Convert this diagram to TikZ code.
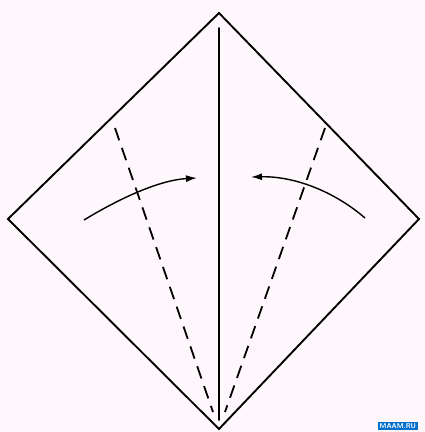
\documentclass[tikz,border=0pt]{standalone}
\usepackage{tikz}
\usetikzlibrary{arrows.meta}

\begin{document}
\begin{tikzpicture}[x=1pt, y=-1pt,
    fold/.style={line width=1.9pt, line cap=round},
    valley/.style={line width=1.8pt, dash pattern=on 13pt off 8pt},
    turn/.style={line width=1.4pt, -{Latex[length=11pt, width=7pt]}}]
    % Frame
    \useasboundingbox (0,0) rectangle (425,432);
    \fill[white!97!magenta] (0,0) rectangle (425,432);

    % Draw corners
    \coordinate (top) at (219,13);
    \coordinate (left) at (8,219);
    \coordinate (right) at (419,219);
    \coordinate (bottom) at (219,429);
    \coordinate (mtop) at (219,28);
    \coordinate (mbottom) at (219,420);
    \coordinate (ltop) at (115,128);
    \coordinate (lbottom) at (213,412);
    \coordinate (rtop) at (325,128);
    \coordinate (rbottom) at (225,412);

    % Draw square and folds
    \draw[fold, line join=miter] (top) -- (right) -- (bottom) -- (left) -- cycle;
    \draw[fold] (mtop) -- (mbottom);
    \draw[valley] (ltop) -- (lbottom);
    \draw[valley] (rtop) -- (rbottom);

    % Draw arrows
    \coordinate (la) at (84,220);
    \coordinate (lb) at (197,178);
    \coordinate (ra) at (365,218);
    \coordinate (rb) at (251,177);
    \draw[turn] (la) .. controls (120,198) and (160,180) .. (lb);
    \draw[turn] (ra) .. controls (335,192) and (295,176) .. (rb);

    % Watermark
    \node[fill=blue!45!cyan!80!black, text=white, font=\sffamily\bfseries\fontsize{7}{8}\selectfont,
          inner sep=1.5pt, anchor=north west] (mark) at (378,422) {MAAM.RU};
\end{tikzpicture}
\end{document}
